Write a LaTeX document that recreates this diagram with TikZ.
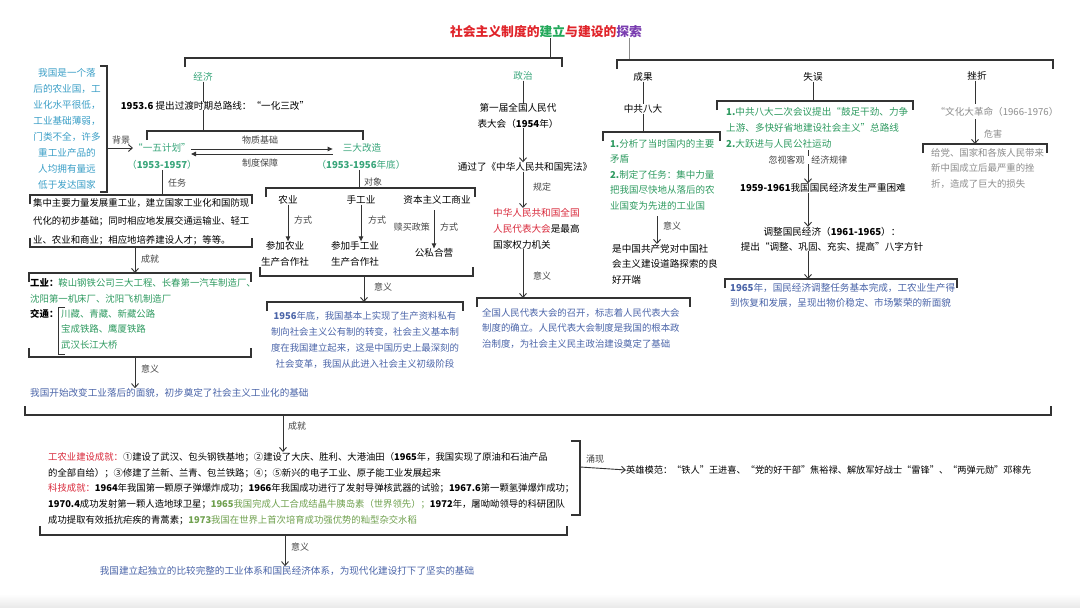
\documentclass[tikz,border=0pt]{standalone}
\usepackage{fontspec}
\setmainfont{Noto Sans CJK SC}
\usetikzlibrary{arrows.meta,calc}

\definecolor{lnc}{HTML}{333333}
\definecolor{tred}{HTML}{E0242A}
\definecolor{tgrn}{HTML}{22A85A}
\definecolor{tpur}{HTML}{7A3DB0}
\definecolor{grn}{HTML}{38A57A}
\definecolor{bgrn}{HTML}{2E9A60}
\definecolor{olv}{HTML}{6FA04E}
\definecolor{blu}{HTML}{4A64A8}
\definecolor{cyn}{HTML}{3A9EC6}
\definecolor{rdt}{HTML}{D8283A}
\definecolor{gry}{HTML}{8C8C8C}
\definecolor{lab}{HTML}{444444}

\tikzset{
	txt/.style={inner sep=0pt, font=\fontsize{9.6}{16}\selectfont, align=left},
	lbl/.style={inner sep=0pt, font=\fontsize{9}{11}\selectfont, text=lab},
	ln/.style={line width=0.9pt, draw=lnc},
	brk/.style={line width=1.1pt, draw=lnc},
	arr/.style={ln, -{Straight Barb[length=4pt,width=7pt]}},
	arrf/.style={ln, -{Triangle[length=5pt,width=4.5pt]}},
}
\def\brkdn(#1:#2:#3){\draw[brk] (#1,#3+9) -- (#1,#3) -- (#2,#3) -- (#2,#3+9);}
\def\brkup(#1:#2:#3){\draw[brk] (#1,#3-9) -- (#1,#3) -- (#2,#3) -- (#2,#3-9);}

\begin{document}
\begin{tikzpicture}[x=1pt,y=-1pt]
	%%%%% START %%%%%
	\useasboundingbox (0,0) rectangle (1080,608);
	\shade[top color=white, bottom color=black!9] (0,594) rectangle (1080,608);
	
	\node[inner sep=0pt, font=\bfseries\fontsize{12.8}{14}\selectfont] (title) at (546,32) {\color{tred}社会主义制度的\color{tgrn}建立\color{tred}与建设的\color{tpur}探索};
	\coordinate (tl) at (550,58);
	\coordinate (tr) at (629,60);
	\draw[ln] (title.south -| tl) -- (tl);
	\draw[ln, draw=gry] (title.south -| tr) -- (tr);
	\brkdn(185:562:58)
	\brkdn(617:1053:60)
	
	\node[txt, text=grn] (jj) at (203,77) {经济};
	\coordinate (jjb) at (203,131);
	\draw[ln] (jj) -- (jjb);
	\node[txt, fill=white, inner xsep=1pt] (zlx) at (215,106) {\textbf{1953.6} 提出过渡时期总路线：“一化三改”};
	\brkdn(147:363:131)
	
	\node[txt, text=cyn, align=center, anchor=north] (bg) at (67,68) {我国是一个落\\后的农业国，工\\业化水平很低，\\工业基础薄弱，\\门类不全，许多\\重工业产品的\\人均拥有量远\\低于发达国家};
	\draw[brk] (100,66) -- (107,66) -- (107,192) -- (100,192);
	\coordinate (bgr) at (107,148);
	
	\node[txt, text=grn] (wy) at (162,148) {“一五计划”};
	\node[txt, text=grn] (wyy) at (162,165) {（\textbf{1953-1957}）};
	\draw[arr] (bgr) -- (wy.west);
	\node[lbl] (bgl) at (121,140) {背景};
	
	\node[txt, text=grn] (sd) at (362,148) {三大改造};
	\node[txt, text=grn] (sdy) at (361,165) {（\textbf{1953-1956}年底）};
	\draw[arrf] ([yshift=-1pt]wy.east) -- ([xshift=-10pt,yshift=-1pt]sd.west);
	\draw[arrf] ([xshift=-10pt,yshift=-6pt]sd.west) -- ([yshift=-6pt]wy.east);
	\node[lbl] (wz) at (260,140) {物质基础};
	\node[lbl] (zd) at (260,163) {制度保障};
	
	\coordinate (rwt) at (162,195);
	\draw[ln] (wyy) -- (rwt);
	\node[lbl] (rwl) at (177,183) {任务};
	\brkdn(30:252:195)
	\brkup(30:252:247)
	\node[txt, anchor=north west, font=\fontsize{9.4}{18.5}\selectfont] (rw) at (33,198) {集中主要力量发展重工业，建立国家工业化和国防现\\代化的初步基础；同时相应地发展交通运输业、轻工\\业、农业和商业；相应地培养建设人才；等等。};
	
	\coordinate (rwb) at (135,247);
	\coordinate (cjt) at (135,273);
	\draw[arr] (rwb) -- (cjt);
	\node[lbl] (cjl1) at (150,259) {成就};
	\brkdn(29:251:273)
	\brkup(29:251:357)
	\node[txt, text=bgrn, anchor=north west, font=\fontsize{9.4}{16}\selectfont] (gy) at (30,278) {{\color{black}\textbf{工业：}}鞍山钢铁公司三大工程、长春第一汽车制造厂、\\沈阳第一机床厂、沈阳飞机制造厂};
	\node[txt, anchor=west, font=\bfseries\fontsize{9.4}{16}\selectfont] (jt) at (30,314) {交通：};
	\draw[ln] (65,307) -- (58,307) -- (58,354) -- (65,354);
	\node[txt, text=bgrn, anchor=north west, font=\fontsize{9.4}{15.5}\selectfont] (jtl) at (61,309) {川藏、青藏、新藏公路\\宝成铁路、鹰厦铁路\\武汉长江大桥};
	
	\coordinate (gyb) at (135,357);
	\node[txt, text=blu, anchor=west] (yy1) at (30,393) {我国开始改变工业落后的面貌，初步奠定了社会主义工业化的基础};
	\draw[arr] (gyb) -- (gyb |- yy1.north);
	\node[lbl] (yyl1) at (150,369) {意义};
	
	\coordinate (dxt) at (359,188);
	\draw[ln] (sdy.south -| dxt) -- (dxt);
	\node[lbl] (dxl) at (373,182) {对象};
	\brkdn(266:475:188)
	\node[txt] (ny) at (288,200) {农业};
	\node[txt] (sgy) at (361,200) {手工业};
	\node[txt] (zbzy) at (437,200) {资本主义工商业};
	\node[txt, align=center] (cjny) at (285,254) {参加农业\\生产合作社};
	\node[txt, align=center] (cjsg) at (355,254) {参加手工业\\生产合作社};
	\node[txt] (gsh) at (434,253) {公私合营};
	\coordinate (zbx) at (434,210);
	\draw[arrf] (ny.south) -- (ny.south |- cjny.north);
	\draw[arrf] (sgy.south) -- (sgy.south |- cjsg.north);
	\draw[arrf] (zbx) -- (zbx |- gsh.north);
	\node[lbl] (fs1) at (303,220) {方式};
	\node[lbl] (fs2) at (377,220) {方式};
	\node[lbl, anchor=east] (smzc) at (430,227) {赎买政策};
	\node[lbl, anchor=west] (fs3) at (440,227) {方式};
	\brkup(260:473:276)
	
	\coordinate (gzb) at (364,276);
	\coordinate (ggt) at (364,302);
	\draw[arr] (gzb) -- (ggt);
	\node[lbl] (yyl2) at (383,287) {意义};
	\brkdn(267:463:302)
	\node[txt, text=blu, align=center, anchor=north, font=\fontsize{9.4}{16}\selectfont] (gg) at (365,311) {\textbf{1956}年底，我国基本上实现了生产资料私有\\制向社会主义公有制的转变，社会主义基本制\\度在我国建立起来，这是中国历史上最深刻的\\社会变革，我国从此进入社会主义初级阶段};
	
	\node[txt, text=grn] (zz) at (523,76) {政治};
	\node[txt, align=center, font=\fontsize{9.6}{15.5}\selectfont] (rd) at (518,116) {第一届全国人民代\\表大会（\textbf{1954}年）};
	\draw[ln] (zz) -- (zz |- rd.north);
	\node[txt] (xf) at (525,167) {通过了《中华人民共和国宪法》};
	\draw[arr] (zz |- rd.south) -- (zz |- xf.north);
	\node[txt, anchor=north west] (qg) at (493,208) {{\color{rdt}中华人民共和国全国}\\{\color{rdt}人民代表大会}是最高\\国家权力机关};
	\draw[arr] (zz |- xf.south) -- (zz |- qg.north);
	\node[lbl] (gdl) at (542,187) {规定};
	\coordinate (zzb) at (523,298);
	\draw[arr] (zz |- qg.south) -- (zzb);
	\node[lbl] (yyl3) at (542,276) {意义};
	\brkdn(477:690:298)
	\node[txt, text=blu, anchor=north west, font=\fontsize{9.4}{15.5}\selectfont] (zzy) at (482,308) {全国人民代表大会的召开，标志着人民代表大会\\制度的确立。人民代表大会制度是我国的根本政\\治制度，为社会主义民主政治建设奠定了基础};
	
	\node[txt] (cg) at (643,77) {成果};
	\node[txt] (bd) at (643,109) {中共八大};
	\draw[ln] (cg) -- (bd);
	\coordinate (bdb) at (643,132);
	\draw[ln] (bd) -- (bdb);
	\brkdn(603:720:132)
	\node[txt, text=bgrn, anchor=north west, font=\fontsize{9.5}{15.5}\selectfont] (bdr) at (610,139) {\textbf{1.}分析了当时国内的主要\\矛盾\\\textbf{2.}制定了任务：集中力量\\把我国尽快地从落后的农\\业国变为先进的工业国};
	\coordinate (bdx) at (657,216);
	\node[txt, anchor=north west, font=\fontsize{9.6}{15.5}\selectfont] (bdk) at (612,244) {是中国共产党对中国社\\会主义建设道路探索的良\\好开端};
	\draw[arr] (bdx) -- (bdx |- bdk.north);
	\node[lbl] (yyl4) at (672,226) {意义};
	
	\node[txt] (sw) at (813,77) {失误};
	\coordinate (swb) at (813,101);
	\draw[ln] (sw) -- (swb);
	\brkdn(717:913:101)
	\node[txt, text=bgrn, anchor=north west, font=\fontsize{9.6}{16}\selectfont] (swr) at (726,107) {\textbf{1.}中共八大二次会议提出“鼓足干劲、力争\\上游、多快好省地建设社会主义”总路线\\\textbf{2.}大跃进与人民公社运动};
	\coordinate (swx) at (808,150);
	\node[txt] (knd) at (823,188) {\textbf{1959-1961}我国国民经济发生严重困难};
	\draw[arr] (swx) -- (swx |- knd.north);
	\node[lbl, fill=white, inner xsep=0pt] (hs) at (808,160) {忽视客观\hspace{7pt}经济规律};
	\node[txt, align=center, font=\fontsize{9.6}{15}\selectfont] (tz) at (832,239) {调整国民经济（\textbf{1961-1965}）：\\提出“调整、巩固、充实、提高”八字方针};
	\draw[arr] (swx |- knd.south) -- (swx |- tz.north);
	\coordinate (tzb) at (808,279);
	\draw[arr] (swx |- tz.south) -- (tzb);
	\brkdn(725:957:279)
	\node[txt, text=blu, anchor=north west, font=\fontsize{9.6}{15}\selectfont] (tzr) at (730,283) {\textbf{1965}年，国民经济调整任务基本完成，工农业生产得\\到恢复和发展，呈现出物价稳定、市场繁荣的新面貌};
	
	\node[txt] (cz) at (977,76) {挫折};
	\node[txt, text=gry] (wg) at (997,112) {“文化大革命（1966-1976）};
	\draw[ln] (cz.south -| 975,0) -- (975,104);
	\coordinate (czb) at (975,144);
	\draw[arr] (975,119) -- (czb);
	\node[lbl, text=gry] (whl) at (993,134) {危害};
	\brkdn(923:1047:144)
	\node[txt, text=gry, anchor=north west, font=\fontsize{9.4}{15.5}\selectfont] (czr) at (931,148) {给党、国家和各族人民带来\\新中国成立后最严重的挫\\折，造成了巨大的损失};
	
	\brkup(25:1051:415)
	\coordinate (cjb) at (283,415);
	\node[txt, anchor=north west, font=\fontsize{9.35}{15.8}\selectfont] (cjs) at (48,452) {{\color{rdt}工农业建设成就：}①建设了武汉、包头钢铁基地；②建设了大庆、胜利、大港油田（\textbf{1965}年，我国实现了原油和石油产品\\的全部自给）；③修建了兰新、兰青、包兰铁路；④；⑤新兴的电子工业、原子能工业发展起来\\{\color{rdt}科技成就：}\textbf{1964}年我国第一颗原子弹爆炸成功；\textbf{1966}年我国成功进行了发射导弹核武器的试验；\textbf{1967.6}第一颗氢弹爆炸成功；\\\textbf{1970.4}成功发射第一颗人造地球卫星；{\color{olv}\textbf{1965}我国完成人工合成结晶牛胰岛素（世界领先）；}\textbf{1972}年，屠呦呦领导的科研团队\\成功提取有效抵抗疟疾的青蒿素；{\color{olv}\textbf{1973}我国在世界上首次培育成功强优势的籼型杂交水稻}};
	\draw[arr] (cjb) -- (cjb |- cjs.north);
	\node[lbl] (cjl2) at (297,426) {成就};
	\draw[brk] (571,441) -- (580,441) -- (580,515) -- (571,515);
	\coordinate (cjr) at (580,467);
	\node[txt, anchor=west, font=\fontsize{9.2}{12}\selectfont] (yx) at (626,470) {英雄模范：“铁人”王进喜、“党的好干部”焦裕禄、解放军好战士“雷锋”、“两弹元勋”邓稼先};
	\draw[arr] (cjr) -- (yx.west);
	\node[lbl] (yxl) at (595,459) {涌现};
	
	\brkup(40:567:535)
	\coordinate (cjsb) at (285,535);
	\node[txt, text=blu] (yy2) at (287,571) {我国建立起独立的比较完整的工业体系和国民经济体系，为现代化建设打下了坚实的基础};
	\draw[arr] (cjsb) -- (cjsb |- yy2.north);
	\node[lbl] (yyl5) at (300,547) {意义};
	
	%%%%% END %%%%%
\end{tikzpicture}
\end{document}
